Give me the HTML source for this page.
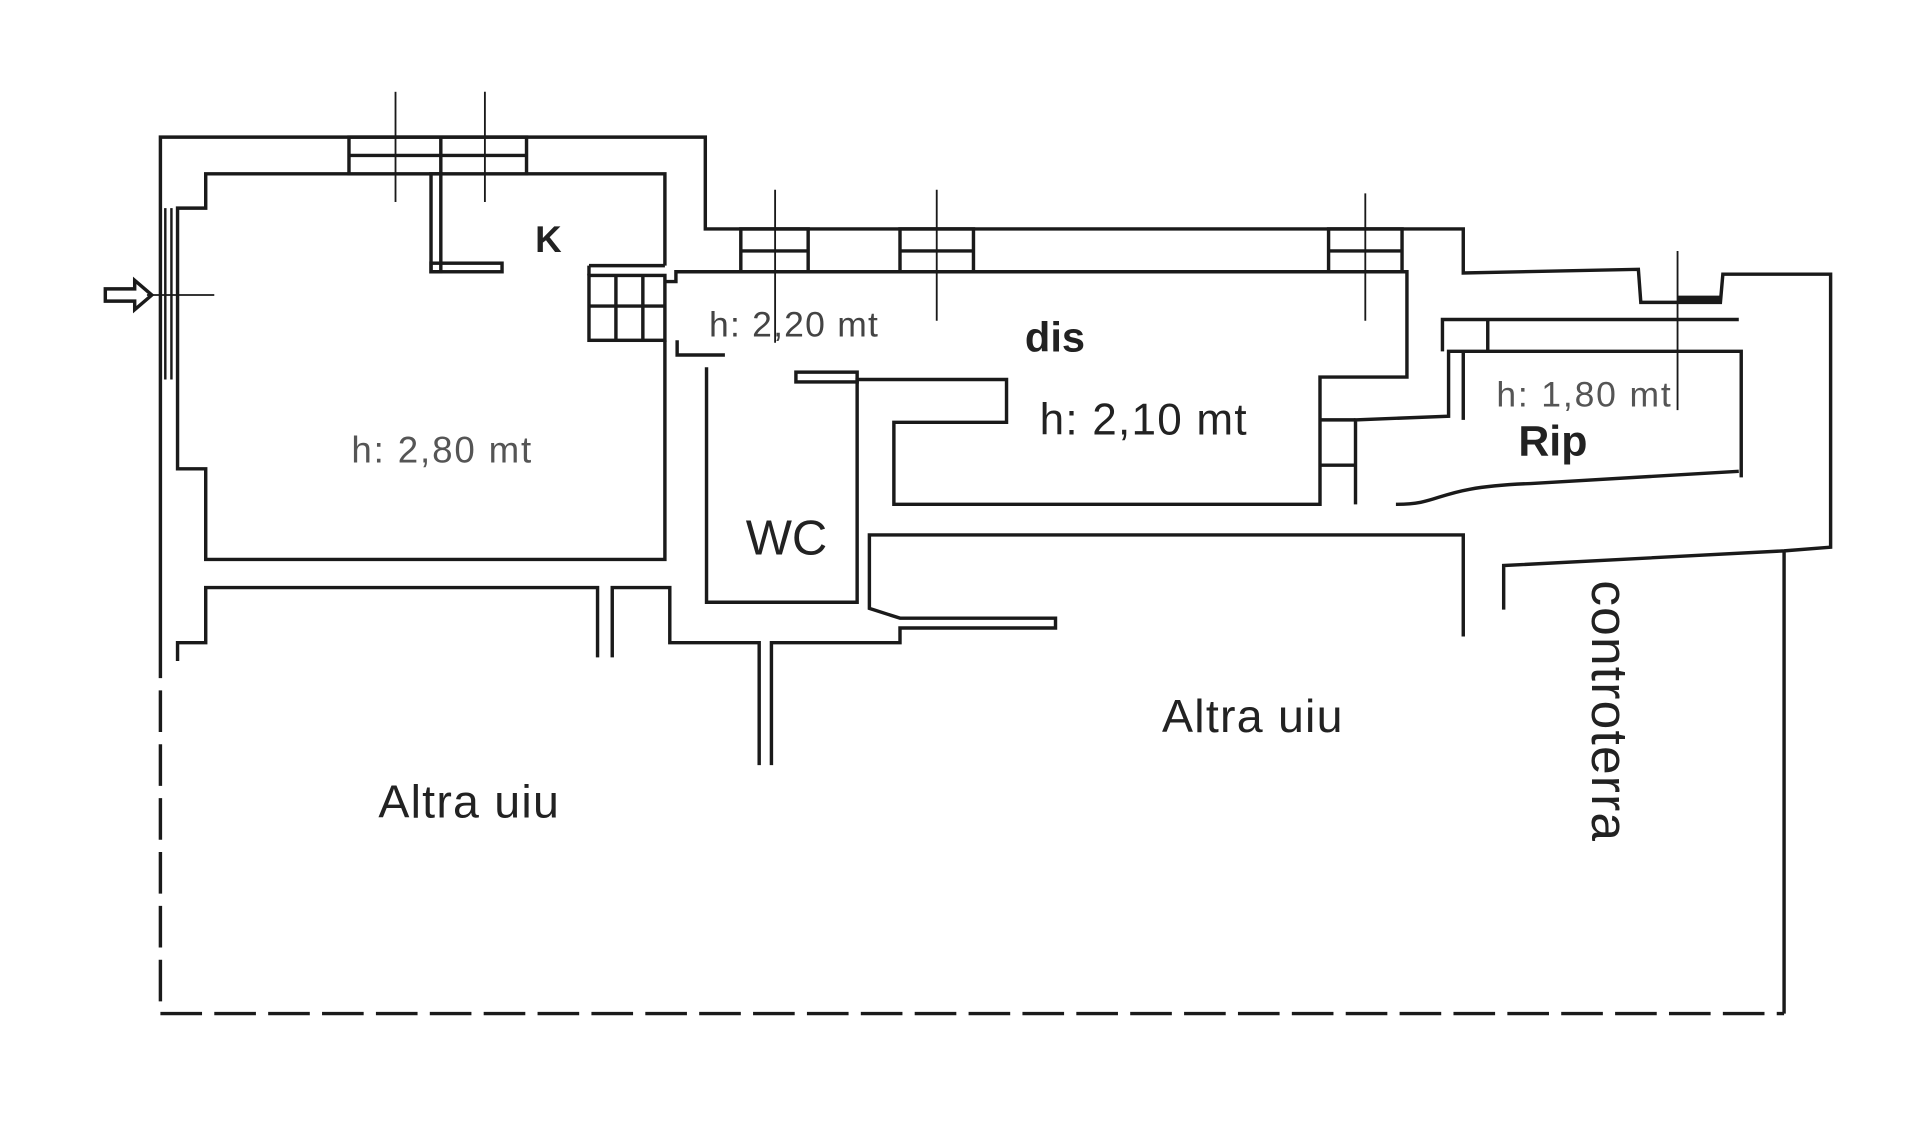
<!DOCTYPE html><html><head><style>html,body{margin:0;padding:0;background:#fff}svg{display:block}
text{font-family:"Liberation Sans",sans-serif;fill:#222}</style></head><body>
<svg width="1920" height="1136" viewBox="0 0 1568 928" preserveAspectRatio="none" xmlns="http://www.w3.org/2000/svg">
<g fill="none" stroke="#1a1a1a" stroke-width="2.8">
<polyline points="131,520 131,112 576,112 576,187 1195,187 1195,223 1338,220 1340,247 1370,247 1405,247 1407,224 1495,224 1495,447 1457,450 1228,462 1228,498"/>
<line x1="1370" y1="244" x2="1405" y2="244" stroke-width="5"/>
<polyline points="285,142 168,142 168,170 145,170 145,383 168,383 168,457 543,457 543,278"/>
<polyline points="430,142 543,142 543,217"/>
<line x1="135" y1="170" x2="135" y2="310" stroke-width="2"/><line x1="140" y1="170" x2="140" y2="310" stroke-width="2"/>
<rect x="285" y="112" width="145" height="30"/><line x1="285" y1="127" x2="430" y2="127"/>
<line x1="360" y1="112" x2="360" y2="142"/>
<line x1="323" y1="75" x2="323" y2="165" stroke-width="1.5"/><line x1="396" y1="75" x2="396" y2="165" stroke-width="1.5"/>
<rect x="352" y="142" width="8" height="80"/><rect x="352" y="215" width="58" height="7"/>
<rect x="481" y="225" width="62" height="53"/><line x1="481" y1="217" x2="543" y2="217"/>
<line x1="481" y1="217" x2="481" y2="225"/>
<line x1="503" y1="225" x2="503" y2="278"/><line x1="525" y1="225" x2="525" y2="278"/><line x1="481" y1="250" x2="543" y2="250"/>
<polyline points="543,230 552,230 552,222 1149,222 1149,308 1078,308 1078,412 730,412 730,345 822,345 822,310 700,310 700,492 577,492 577,300"/>
<polyline points="553,278 553,290 592,290"/>
<rect x="605" y="187" width="55" height="35"/><line x1="605" y1="205" x2="660" y2="205"/>
<rect x="735" y="187" width="60" height="35"/><line x1="735" y1="205" x2="795" y2="205"/>
<rect x="1085" y="187" width="60" height="35"/><line x1="1085" y1="205" x2="1145" y2="205"/>
<line x1="633" y1="155" x2="633" y2="280" stroke-width="1.5"/>
<line x1="765" y1="155" x2="765" y2="262" stroke-width="1.5"/>
<line x1="1115" y1="158" x2="1115" y2="262" stroke-width="1.5"/>
<line x1="1370" y1="205" x2="1370" y2="335" stroke-width="1.5"/>
<rect x="650" y="304" width="50" height="8"/>
<polyline points="1178,287 1178,261 1420,261"/><line x1="1215" y1="261" x2="1215" y2="287"/>
<polyline points="1107,412 1107,343 1183,340 1183,287 1422,287 1422,390"/>
<polyline points="1078,343 1107,343"/><polyline points="1078,380 1107,380"/>
<line x1="1195" y1="287" x2="1195" y2="343"/>
<path d="M1140,412 C1180,412 1170,398 1250,395 L1420,385"/>
<polyline points="1195,520 1195,437 710,437 710,497 735,505 862,505 862,513 735,513 735,525 630,525 630,625"/>
<polyline points="620,625 620,525 547,525 547,480 500,480 500,537"/>
<polyline points="488,537 488,480 168,480 168,525 145,525 145,540"/>
<line x1="1457" y1="450" x2="1457" y2="828"/>
<polyline points="131,520 131,828 1457,828" stroke-dasharray="34 10"/>
<line x1="120" y1="241" x2="175" y2="241" stroke-width="1.5"/>
<path d="M86,236 L110,236 L110,229 L124,241 L110,253 L110,246 L86,246 Z"/>
</g>
<text x="437" y="206" font-size="30" font-weight="bold">K</text>
<text x="579" y="275" font-size="29" letter-spacing="1" style="fill:#444">h: 2,20 mt</text>
<text x="837" y="287" font-size="34" font-weight="bold">dis</text>
<text x="849" y="355" font-size="36" letter-spacing="1">h: 2,10 mt</text>
<text x="287" y="378" font-size="30" letter-spacing="1.5" style="fill:#555">h: 2,80 mt</text>
<text x="609" y="453" font-size="40">WC</text>
<text x="1222" y="332" font-size="29" letter-spacing="1.5" style="fill:#555">h: 1,80 mt</text>
<text x="1240" y="372" font-size="35" font-weight="bold">Rip</text>
<text x="949" y="598" font-size="38" letter-spacing="1">Altra uiu</text>
<text x="309" y="668" font-size="38" letter-spacing="1">Altra uiu</text>
<text x="0" y="0" font-size="42" letter-spacing="1" transform="translate(1300,474) rotate(90)">controterra</text>
</svg></body></html>
